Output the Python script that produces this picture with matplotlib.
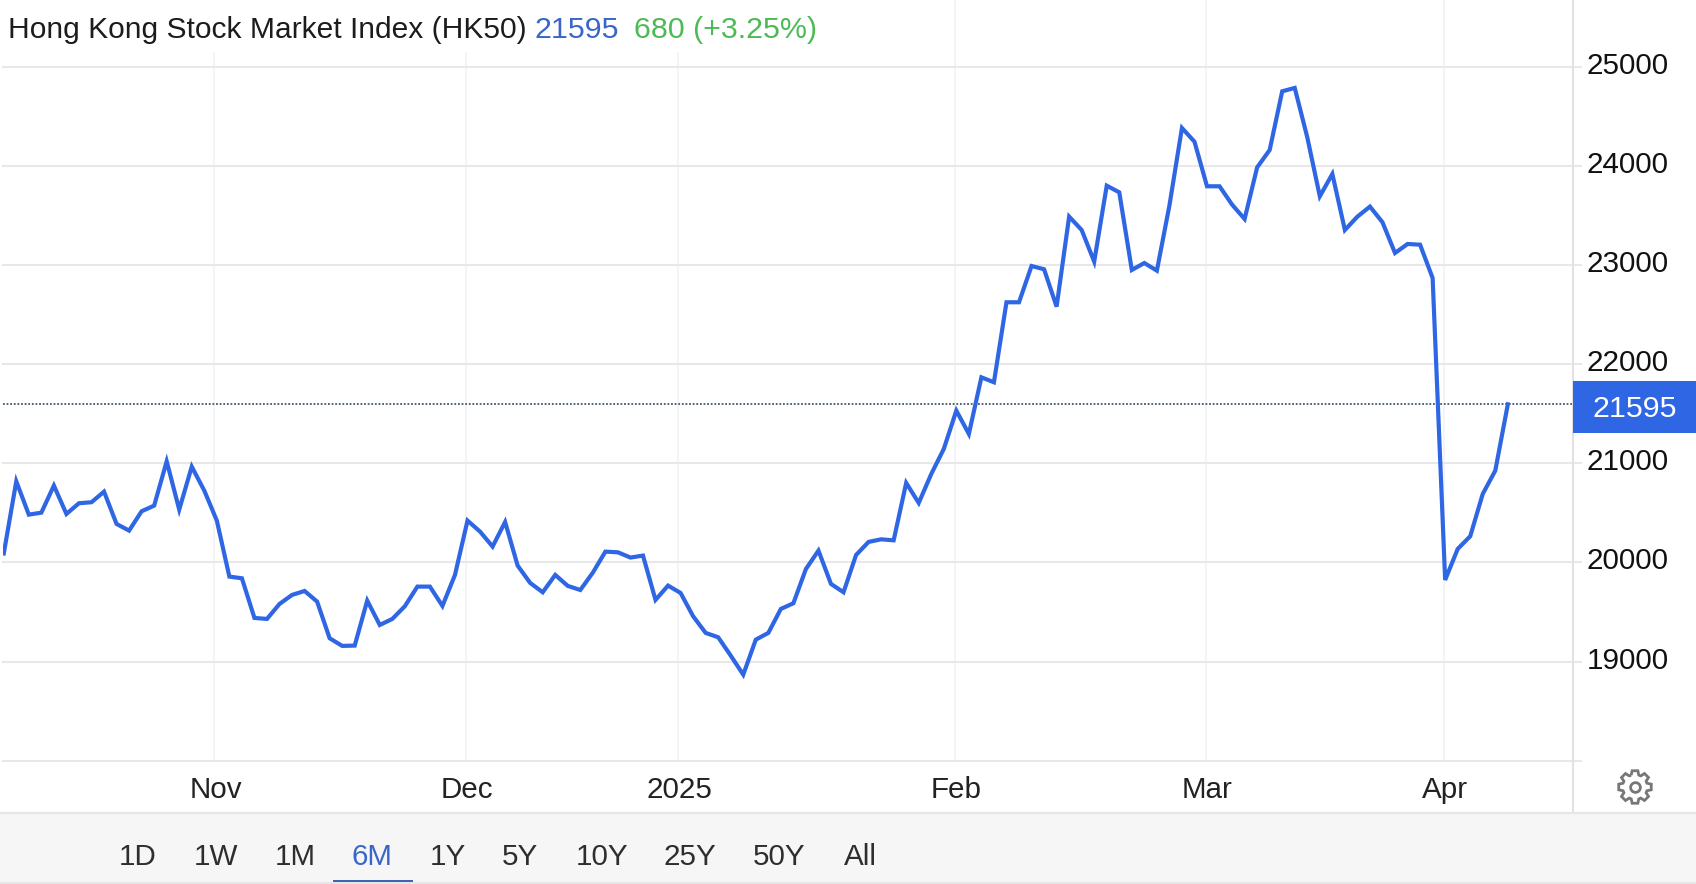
import numpy as np
from matplotlib import pyplot as plt
from matplotlib import transforms
from matplotlib.lines import Line2D
from matplotlib.patches import Rectangle, PathPatch
from matplotlib.path import Path

W, H = 1696, 884

plt.rcParams['font.family'] = ['Liberation Sans', 'DejaVu Sans']

# closes per trading day
closes = [
    20090, 20818, 20482, 20502, 20775, 20489, 20597, 20607, 20714, 20388,
    20321, 20516, 20573, 21020, 20533, 20966, 20724, 20422, 19857, 19840,
    19440, 19430, 19581, 19672, 19712, 19605, 19235, 19158, 19161, 19615,
    19369, 19430, 19558, 19756, 19756, 19561, 19874, 20422, 20311, 20160,
    20408, 19968, 19793, 19699, 19874, 19763, 19722, 19897, 20109, 20102,
    20049, 20069, 19622, 19766, 19692, 19457, 19289, 19245, 19060, 18868,
    19221, 19289, 19531, 19588, 19934, 20119, 19783, 19699, 20075, 20207,
    20233, 20223, 20802, 20600, 20892, 21145, 21531, 21296, 21867, 21817,
    22624, 22624, 22990, 22957, 22580, 23488, 23353, 23034, 23800, 23733,
    22950, 23020, 22943, 23599, 24382, 24244, 23794, 23794, 23609, 23464,
    23985, 24160, 24752, 24786, 24288, 23693, 23918, 23353, 23488, 23589,
    23431, 23121, 23212, 23205, 22869, 19823, 20136, 20264, 20691, 20926,
    21595,
]
month_labels = ['Nov', 'Dec', '2025', 'Feb', 'Mar', 'Apr']
month_pos = [16.8, 36.85, 53.8, 75.9, 95.9, 114.9]
price_ticks = [18000, 19000, 20000, 21000, 22000, 23000, 24000, 25000]
price_labels = ['', '19000', '20000', '21000', '22000', '23000', '24000', '25000']
range_labels = ['1D', '1W', '1M', '6M', '1Y', '5Y', '10Y', '25Y', '50Y', 'All']
range_centers = [138, 216, 295, 372, 448, 520, 602, 690, 779, 860]
title = 'Hong Kong Stock Market Index (HK50)'
last_text = '21595'
change_text = '680 (+3.25%)'

BLUE = '#2f66e4'
GRID_H = '#e8e8e8'
GRID_V = '#f2f2f2'
FONT = 21.3


def fx(x):
    return x / W


def fy(y):
    return 1 - y / H


def px_rect(x0, y0, x1, y1, **kw):
    r = Rectangle((fx(x0), fy(y1)), (x1 - x0) / W, (y1 - y0) / H,
                  transform=fig.transFigure, linewidth=0, **kw)
    fig.add_artist(r)


def px_line(xs, ys, **kw):
    fig.add_artist(Line2D([fx(x) for x in xs], [fy(y) for y in ys],
                          transform=fig.transFigure, **kw))


def gear(cx, cy, r_out, r_in, teeth=8):
    # outline in pixels, y pointing down
    verts = []
    step = 2 * np.pi / teeth
    for i in range(teeth):
        a = i * step - np.pi / 2
        for da, r in [(-0.30, r_in), (-0.17, r_out), (0.17, r_out), (0.30, r_in)]:
            verts.append((cx + r * np.cos(a + da * step * 1.3),
                          cy + r * np.sin(a + da * step * 1.3)))
    verts.append(verts[0])
    return [(fx(x), fy(y)) for x, y in verts]


fig = plt.figure(figsize=(W / 100, H / 100), dpi=100, facecolor='white')
ax = fig.add_axes([fx(3), fy(760.7), fx(1573) - fx(3), 1 - fy(760.7)])

xs = np.arange(len(closes))
ax.plot(xs, closes, color=BLUE, lw=3.0, solid_joinstyle='miter', zorder=3)
ax.axhline(closes[-1], color='#44576b', lw=1.3, ls=(0, (1, 1)), zorder=2)

ax.set_xlim(-0.06, 125.2)
ax.set_ylim(18000, 25673)
ax.set_xticks(month_pos)
ax.set_xticklabels(month_labels)
ax.set_yticks(price_ticks)
ax.set_yticklabels(price_labels)
ax.yaxis.tick_right()
ax.grid(axis='y', color=GRID_H, lw=1.5)
ax.grid(axis='x', color=GRID_V, lw=1.2)
ax.set_axisbelow(True)
for gl in ax.get_ygridlines():
    gl.set_clip_on(False)

for side in ['top', 'left', 'bottom']:
    ax.spines[side].set_visible(False)
ax.spines['right'].set_color('#e2e2e2')
ax.spines['right'].set_linewidth(1.5)

ax.tick_params(axis='y', length=6.5, width=1.5, color=GRID_H, pad=3.5,
               labelsize=FONT, labelcolor='#111111')
ax.tick_params(axis='x', length=0, pad=11, labelsize=FONT, labelcolor='#222222')
up = transforms.ScaledTranslation(0, 0.04, fig.dpi_scale_trans)
for lab in ax.get_yticklabels():
    lab.set_transform(lab.get_transform() + up)
nudge = transforms.ScaledTranslation(0.015, 0, fig.dpi_scale_trans)
for lab in ax.get_xticklabels():
    lab.set_transform(lab.get_transform() + nudge)

# white strip behind the header, hides the vertical grid there
px_rect(0, 0, 830, 52, facecolor='white', zorder=5)
fig.text(fx(8), fy(38), title, fontsize=21.6, color='#1c1c1c', zorder=6)
fig.text(fx(534), fy(38), last_text, fontsize=21.9, color='#3a66c8', zorder=6)
fig.text(fx(634), fy(38), change_text, fontsize=21.9, color='#4cbb55', zorder=6)

# last price flag
px_rect(1573, 381, 1696, 433, facecolor=BLUE, zorder=5)
fig.text(fx(1635), fy(417), last_text, fontsize=21.9, color='white',
         ha='center', zorder=6)

# range selector bar
px_line([1573, 1573], [760, 812], color='#e2e2e2', lw=1.5, zorder=4)
px_rect(0, 812, W, H, facecolor='#f6f6f6', zorder=5)
px_line([0, W], [812.5, 812.5], color='#e6e6e6', lw=1.6, zorder=6)
px_line([0, W], [882.5, 882.5], color='#e6e6e6', lw=1.6, zorder=6)
for lab, cx in zip(range_labels, range_centers):
    col = '#3a66c8' if lab == '6M' else '#2e2e2e'
    fig.text(fx(cx), fy(865), lab, fontsize=FONT, color=col, ha='center', zorder=6)
px_line([334, 412], [881, 881], color='#3a5fb5', lw=1.4, zorder=7)

# settings icon
fig.add_artist(PathPatch(Path(gear(1635, 787, 16.5, 12.5)), facecolor='none',
                         edgecolor='#777777', lw=2, transform=fig.transFigure, zorder=6))
fig.add_artist(Line2D([fx(1635)], [fy(787)], marker='o', ms=7, mfc='none', mec='#777777',
                      mew=2, transform=fig.transFigure, zorder=6))

fig.savefig('out.png', dpi=100)
